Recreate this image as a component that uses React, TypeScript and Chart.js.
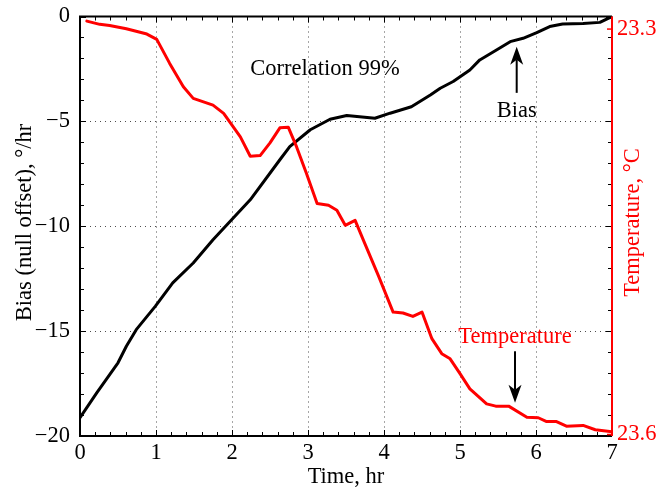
import React, { useEffect, useRef } from "react";
import { Chart, registerables } from "chart.js";

Chart.register(...registerables);

// ---- data ----
const biasTime = [0, 0.22, 0.5, 0.61, 0.74, 0.99, 1.22, 1.49, 1.75, 2.24, 2.63, 2.76, 3.03, 3.29, 3.51, 3.88, 4.08, 4.36, 4.61, 4.74, 4.91, 5.13, 5.26, 5.48, 5.66, 5.83, 6.01, 6.18, 6.35, 6.62, 6.84, 7.0];
const biasValues = [-19.13, -17.94, -16.51, -15.72, -14.93, -13.82, -12.7, -11.75, -10.64, -8.74, -6.83, -6.2, -5.4, -4.9, -4.72, -4.85, -4.61, -4.3, -3.74, -3.42, -3.1, -2.55, -2.07, -1.6, -1.2, -1.04, -0.77, -0.48, -0.36, -0.33, -0.28, 0.0];

const tempTime = [0.09, 0.26, 0.39, 0.61, 0.88, 1.01, 1.18, 1.36, 1.49, 1.75, 1.89, 2.11, 2.24, 2.37, 2.5, 2.63, 2.74, 2.85, 2.98, 3.12, 3.27, 3.38, 3.49, 3.62, 3.73, 3.93, 4.12, 4.25, 4.38, 4.5, 4.63, 4.76, 4.87, 5.0, 5.13, 5.35, 5.47, 5.64, 5.88, 6.03, 6.14, 6.27, 6.4, 6.62, 6.78, 7.0];
const tempValues = [23.2941, 23.2965, 23.2973, 23.2998, 23.3037, 23.3076, 23.3254, 23.3427, 23.3513, 23.3563, 23.3624, 23.3798, 23.3941, 23.3936, 23.3842, 23.3731, 23.3726, 23.3872, 23.4069, 23.4291, 23.4304, 23.4341, 23.4452, 23.4415, 23.4563, 23.483, 23.5094, 23.5101, 23.5126, 23.5094, 23.5291, 23.5402, 23.544, 23.555, 23.5662, 23.5773, 23.579, 23.579, 23.5872, 23.5876, 23.5904, 23.5904, 23.5938, 23.5933, 23.5965, 23.598];

const timeRange = [0, 7];
const biasRange = [-20, 0];
const tempRange = [23.2907, 23.6011];
const timeTicks = [0, 1, 2, 3, 4, 5, 6, 7];
const biasTicks = [-20, -15, -10, -5, 0];
const tempTicks = [23.3, 23.6];

const xTitle = "Time, hr";
const yTitle = "Bias (null offset), °/hr";
const y1Title = "Temperature, °C";

const noteTexts = ["Correlation 99%", "Bias", "Temperature"];
const noteTimes = [3.224, 5.746, 5.724];
const noteBias = [-2.79, -4.77, -15.56];
const noteColors = ["#000000", "#000000", "#ff0000"];

const arrowTimes = [5.746, 5.724];
const arrowFromBias = [-3.64, -15.96];
const arrowToBias = [-1.44, -18.42];

// ---- styles ----
const FONT = "'Liberation Serif', 'Times New Roman', Times, serif";
const FS = 22.5;
const RED = "#ff0000";

function drawArrow(ctx: CanvasRenderingContext2D, x: number, y0: number, y1: number) {
  const dir = Math.sign(y1 - y0);
  const L = 18, W = 6.5, N = 13;
  ctx.beginPath();
  ctx.moveTo(x, y0);
  ctx.lineTo(x, y1 - dir * N);
  ctx.stroke();
  ctx.beginPath();
  ctx.moveTo(x, y1);
  ctx.lineTo(x - W, y1 - dir * L);
  ctx.lineTo(x, y1 - dir * N);
  ctx.lineTo(x + W, y1 - dir * L);
  ctx.closePath();
  ctx.fill();
}

function fixBox(s: any, w: number | null, h: number | null) {
  if (w !== null) s.width = w;
  if (h !== null) s.height = h;
  s.paddingTop = 0;
  s.paddingBottom = 0;
  s.paddingLeft = 0;
  s.paddingRight = 0;
}

const decor = {
  id: "decor",
  beforeDatasetsDraw(chart: any) {
    const { ctx, chartArea: a, scales } = chart;
    const xs = scales.x, ys = scales.y;
    ctx.save();
    ctx.strokeStyle = "rgba(0,0,0,0.7)";
    ctx.lineWidth = 1;
    ctx.setLineDash([1, 4]);
    for (const t of timeTicks) {
      if (t <= timeRange[0] || t >= timeRange[1]) continue;
      const px = Math.round(xs.getPixelForValue(t)) + 0.5;
      ctx.beginPath();
      ctx.moveTo(px, a.top);
      ctx.lineTo(px, a.bottom);
      ctx.stroke();
    }
    for (const b of biasTicks) {
      if (b <= biasRange[0] || b >= biasRange[1]) continue;
      const py = Math.round(ys.getPixelForValue(b)) + 0.5;
      ctx.beginPath();
      ctx.moveTo(a.left, py);
      ctx.lineTo(a.right, py);
      ctx.stroke();
    }
    ctx.restore();
  },
  afterDatasetsDraw(chart: any) {
    const { ctx, chartArea: a, scales } = chart;
    const xs = scales.x, ys = scales.y, y1s = scales.y1;
    ctx.save();
    ctx.setLineDash([]);
    ctx.strokeStyle = "#000";
    ctx.lineWidth = 1;
    const nx = Math.round((timeRange[1] - timeRange[0]) / 0.2);
    for (let i = 0; i <= nx; i++) {
      const t = timeRange[0] + i * 0.2;
      const len = i % 5 === 0 ? 6 : 4;
      const px = Math.round(xs.getPixelForValue(t)) + 0.5;
      ctx.beginPath();
      ctx.moveTo(px, a.bottom);
      ctx.lineTo(px, a.bottom - len);
      ctx.moveTo(px, a.top);
      ctx.lineTo(px, a.top + len);
      ctx.stroke();
    }
    for (let b = biasRange[0]; b <= biasRange[1]; b++) {
      const len = b % 5 === 0 ? 6 : 4;
      const py = Math.round(ys.getPixelForValue(b)) + 0.5;
      ctx.beginPath();
      ctx.moveTo(a.left, py);
      ctx.lineTo(a.left + len, py);
      ctx.moveTo(a.right, py);
      ctx.lineTo(a.right - len, py);
      ctx.stroke();
    }
    ctx.lineWidth = 2;
    ctx.strokeStyle = "#000";
    ctx.beginPath();
    ctx.moveTo(a.right, a.top);
    ctx.lineTo(a.left, a.top);
    ctx.lineTo(a.left, a.bottom);
    ctx.lineTo(a.right, a.bottom);
    ctx.stroke();
    ctx.strokeStyle = RED;
    ctx.beginPath();
    ctx.moveTo(a.right, a.top);
    ctx.lineTo(a.right, a.bottom);
    ctx.stroke();
    ctx.lineWidth = 1.5;
    for (const v of tempTicks) {
      const py = y1s.getPixelForValue(v);
      ctx.beginPath();
      ctx.moveTo(a.right, py);
      ctx.lineTo(a.right - 5, py);
      ctx.stroke();
    }
    ctx.font = `${FS}px ${FONT}`;
    ctx.textAlign = "center";
    ctx.textBaseline = "alphabetic";
    noteTexts.forEach((s, i) => {
      ctx.fillStyle = noteColors[i];
      ctx.fillText(s, xs.getPixelForValue(noteTimes[i]), ys.getPixelForValue(noteBias[i]));
    });
    ctx.strokeStyle = "#000";
    ctx.fillStyle = "#000";
    ctx.lineWidth = 2;
    arrowTimes.forEach((t, i) => {
      drawArrow(ctx, xs.getPixelForValue(t), ys.getPixelForValue(arrowFromBias[i]), ys.getPixelForValue(arrowToBias[i]));
    });
    ctx.restore();
  },
  afterDraw(chart: any) {
    const { ctx, chartArea: a } = chart;
    ctx.save();
    ctx.font = `${FS}px ${FONT}`;
    ctx.textAlign = "center";
    ctx.textBaseline = "alphabetic";
    ctx.fillStyle = "#000";
    ctx.fillText(xTitle, (a.left + a.right) / 2, 483);
    const cy = 222.5;
    ctx.save();
    ctx.translate(31, cy);
    ctx.rotate(-Math.PI / 2);
    ctx.fillText(yTitle, 0, 0);
    ctx.restore();
    ctx.save();
    ctx.fillStyle = RED;
    ctx.translate(639, cy);
    ctx.rotate(-Math.PI / 2);
    ctx.fillText(y1Title, 0, 0);
    ctx.restore();
    ctx.restore();
  },
};

export default function App() {
  const ref = useRef<HTMLCanvasElement>(null);
  useEffect(() => {
    const canvas = ref.current;
    if (!canvas) return;
    const tickFont = { family: FONT, size: FS };
    const chart = new Chart(canvas, {
      type: "line",
      data: {
        datasets: [
          {
            label: "Temperature",
            data: tempTime.map((t, i) => ({ x: t, y: tempValues[i] })),
            yAxisID: "y1",
            borderColor: RED,
            borderWidth: 3,
            pointRadius: 0,
            tension: 0,
            borderJoinStyle: "round",
            borderCapStyle: "round",
            order: 0,
          },
          {
            label: "Bias",
            data: biasTime.map((t, i) => ({ x: t, y: biasValues[i] })),
            yAxisID: "y",
            borderColor: "#000000",
            borderWidth: 3,
            pointRadius: 0,
            tension: 0,
            borderJoinStyle: "round",
            borderCapStyle: "round",
            order: 1,
          },
        ],
      },
      options: {
        responsive: false,
        maintainAspectRatio: false,
        devicePixelRatio: 1,
        animation: false,
        layout: { padding: { top: 16.5, left: 0, right: 0, bottom: 0 } },
        plugins: { legend: { display: false }, tooltip: { enabled: false } },
        scales: {
          x: {
            type: "linear",
            position: "bottom",
            min: timeRange[0],
            max: timeRange[1],
            afterBuildTicks: (s: any) => { s.ticks = timeTicks.map((v) => ({ value: v })); },
            ticks: { color: "#000", font: tickFont, padding: 4, maxRotation: 0, autoSkip: false },
            grid: { display: false, drawTicks: false },
            border: { display: false },
            afterFit: (s: any) => fixBox(s, null, 53),
          },
          y: {
            type: "linear",
            position: "left",
            min: biasRange[0],
            max: biasRange[1],
            afterBuildTicks: (s: any) => { s.ticks = biasTicks.map((v) => ({ value: v })); },
            ticks: {
              color: "#000",
              font: tickFont,
              padding: 10,
              callback: (v: any) => (Number(v) < 0 ? "\u2212" + Math.abs(Number(v)) : String(v)),
            },
            grid: { display: false, drawTicks: false },
            border: { display: false },
            afterFit: (s: any) => fixBox(s, 80, null),
          },
          y1: {
            type: "linear",
            position: "right",
            reverse: true,
            min: tempRange[0],
            max: tempRange[1],
            afterBuildTicks: (s: any) => { s.ticks = tempTicks.map((v) => ({ value: v })); },
            ticks: { color: RED, font: tickFont, padding: 5, callback: (v: any) => Number(v).toFixed(1) },
            grid: { display: false, drawTicks: false },
            border: { display: false },
            afterFit: (s: any) => fixBox(s, 45, null),
          },
        },
      },
      plugins: [decor],
    } as any);
    return () => chart.destroy();
  }, []);
  return (
    <div style={{ position: "fixed", left: 0, top: 0, width: 657, height: 489, background: "#fff" }}>
      <canvas ref={ref} width={657} height={489} style={{ display: "block", width: 657, height: 489 }} />
    </div>
  );
}
